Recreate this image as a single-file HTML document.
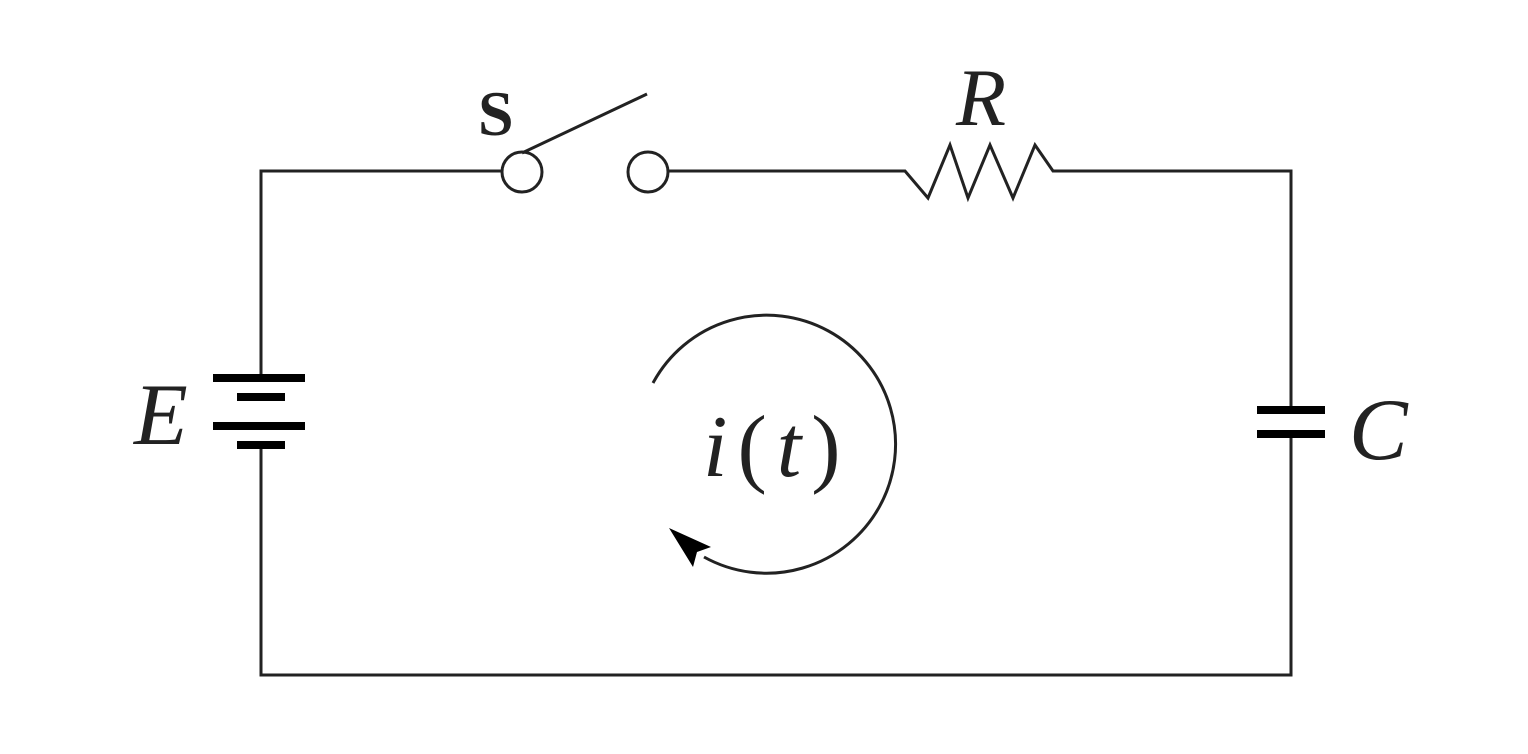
<!DOCTYPE html>
<html><head><meta charset="utf-8"><style>html,body{margin:0;padding:0;background:#fff}svg{display:block}</style></head>
<body>
<svg width="1528" height="754" viewBox="0 0 1528 754" xmlns="http://www.w3.org/2000/svg">
<g fill="none" stroke="#222" stroke-width="3">
<polyline points="261,378 261,171 502,171"/>
<polyline points="261,444 261,675 1291,675 1291,434"/>
<polyline points="1291,410 1291,171 1053,171 1035,145 1013,198 990,145 968,198 950,145 928,198 905,171 668,171"/>
<circle cx="522" cy="172" r="20"/>
<circle cx="648" cy="172" r="20"/>
<line x1="522" y1="153" x2="647" y2="94"/>
<path d="M653,383 A129,129 0 1 1 704,557"/>
</g>
<g fill="#000">
<rect x="213" y="374" width="92" height="8"/>
<rect x="237" y="393" width="48" height="8"/>
<rect x="213" y="422" width="92" height="8"/>
<rect x="237" y="441" width="48" height="8"/>
<rect x="1257" y="406" width="68" height="8"/>
<rect x="1257" y="430" width="68" height="8"/>
<polygon points="669,528 711,547 697,552 693,567"/>
</g>
<g font-family="'Liberation Serif',serif" fill="#222">
<text x="478" y="135" font-size="64" font-weight="bold">S</text>
<text x="956" y="125" font-size="82" font-style="italic">R</text>
<text x="134" y="444" font-size="88" font-style="italic">E</text>
<text x="1349" y="459" font-size="88" font-style="italic">C</text>
<text x="703" y="476" font-size="88" font-style="italic" letter-spacing="10">i<tspan font-style="normal">(</tspan>t<tspan font-style="normal">)</tspan></text>
</g>
</svg>
</body></html>
